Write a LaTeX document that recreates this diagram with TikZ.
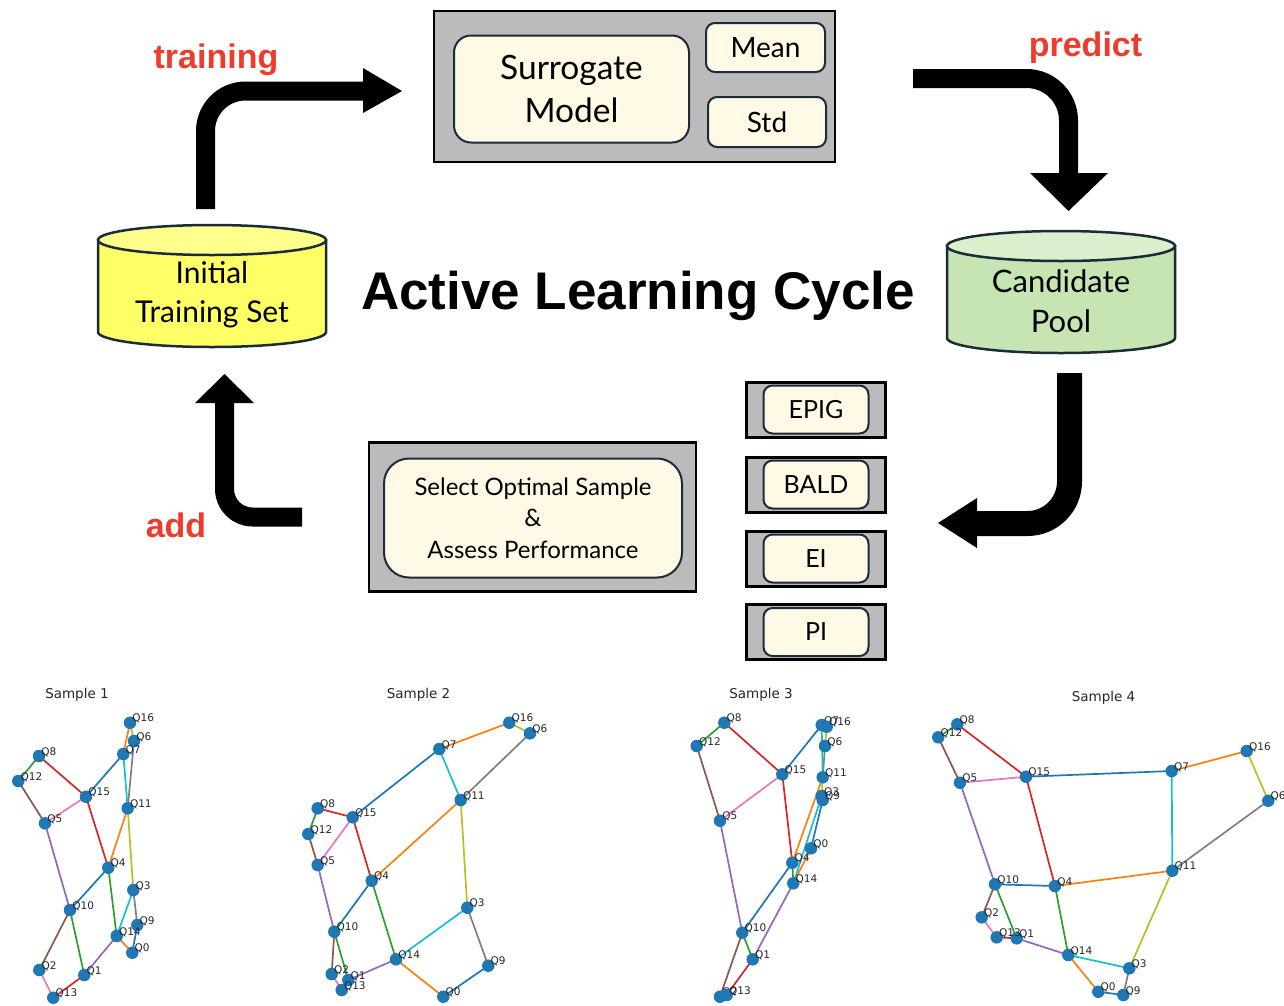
\documentclass[tikz,border=0pt]{standalone}
\usepackage{fontspec}
\setmainfont{Lato}
\newfontfamily\titlefont{Liberation Sans}
\newfontfamily\plotfont{DejaVu Sans}
\usetikzlibrary{backgrounds}
\definecolor{boxgray}{HTML}{BBBBBB}
\definecolor{cream}{HTML}{FFF9E5}
\definecolor{navy}{HTML}{1C2B3A}
\definecolor{ybody}{HTML}{FFFF66}
\definecolor{ytop}{HTML}{FFFF8C}
\definecolor{gbody}{HTML}{C6E5B3}
\definecolor{gtop}{HTML}{DAEFCC}
\definecolor{lblred}{HTML}{EE3B2B}
\definecolor{tabBlue}{HTML}{1F77B4}
\definecolor{tabOrange}{HTML}{FF7F0E}
\definecolor{tabGreen}{HTML}{2CA02C}
\definecolor{tabRed}{HTML}{D62728}
\definecolor{tabPurple}{HTML}{9467BD}
\definecolor{tabBrown}{HTML}{8C564B}
\definecolor{tabPink}{HTML}{E377C2}
\definecolor{tabGray}{HTML}{7F7F7F}
\definecolor{tabOlive}{HTML}{BCBD22}
\definecolor{tabCyan}{HTML}{17BECF}
\newcommand\edgelist{16/7/tabOrange, 16/6/tabOlive, 6/11/tabGray, 7/11/tabCyan, 7/15/tabBlue, 11/4/tabOrange, 11/3/tabOlive, 8/15/tabRed, 8/12/tabGreen, 12/5/tabBrown, 15/5/tabPink, 15/4/tabRed, 5/10/tabPurple, 4/10/tabBlue, 4/14/tabGreen, 3/14/tabCyan, 3/9/tabGray, 9/0/tabBlue, 14/0/tabOrange, 14/1/tabPurple, 10/2/tabBrown, 10/1/tabGreen, 2/13/tabPink, 13/1/tabRed}
\newcommand\drawsample[2]{%
  \foreach \n/\px/\py in {#2} {
    \node[gnode, label={[glab]0:Q\n}] (#1\n) at (\px,\py) {};
  }
  \begin{scope}[on background layer]
    \foreach \a/\b/\c in \edgelist {
      \draw[gedge, draw=\c] (#1\a.center) -- (#1\b.center);
    }
  \end{scope}
}
\begin{document}
\begin{tikzpicture}[x=1pt,y=-1pt,
  graybox/.style={draw=black, line width=2.5pt, fill=boxgray, inner sep=0pt},
  creambox/.style={draw=navy, line width=2pt, fill=cream, inner sep=0pt, align=center},
  cyl/.style={draw=navy, line width=2.5pt},
  cyltext/.style={inner sep=0pt, align=center},
  bigarrow/.style={draw=black, line cap=butt, line join=round},
  redlbl/.style={text=lblred, font=\titlefont\bfseries\fontsize{34}{40}\selectfont, anchor=base, inner sep=0pt},
  gnode/.style={circle, fill=tabBlue, inner sep=0pt, minimum size=12.5pt},
  glab/.style={font=\plotfont\fontsize{10.5}{11}\selectfont, inner sep=0pt, label distance=-4.3pt, yshift=4pt, text=black!85},
  gedge/.style={line width=1.7pt},
  stitle/.style={font=\plotfont\fontsize{13.5}{14}\selectfont, inner sep=0pt, text=black!85}
]
\useasboundingbox (0,0) rectangle (1284,1005);

% ---------- top surrogate box ----------
\node[graybox, minimum width=401pt, minimum height=151pt] (topbox) at (634.5,86.5) {};
\node[creambox, rounded corners=17pt, minimum width=235pt, minimum height=107pt, font=\fontsize{33.5}{43}\selectfont] (surr) at (571.5,89) {Surrogate\\Model};
\node[creambox, rounded corners=9pt, minimum width=119pt, minimum height=49pt, font=\fontsize{28}{30}\selectfont] (mean) at (765.5,47.5) {Mean};
\node[creambox, rounded corners=9pt, minimum width=118pt, minimum height=50pt, font=\fontsize{28}{30}\selectfont] (std) at (767,122) {Std};

% ---------- cylinders ----------
\path[cyl, fill=ybody] (98,240) -- (98,332) arc[start angle=180, end angle=360, x radius=114pt, y radius=15pt] -- (326,240) -- cycle;
\draw[cyl, fill=ytop] (212,240) ellipse[x radius=114pt, y radius=15pt];
\node[cyltext, font=\fontsize{30}{39}\selectfont] (init) at (212,295) {Initial\\Training Set};

\path[cyl, fill=gbody] (947,246) -- (947,338) arc[start angle=180, end angle=360, x radius=114pt, y radius=15pt] -- (1175,246) -- cycle;
\draw[cyl, fill=gtop] (1061,246) ellipse[x radius=114pt, y radius=15pt];
\node[cyltext, font=\fontsize{31}{40}\selectfont] (pool) at (1061,301) {Candidate\\Pool};

% ---------- title ----------
\node[anchor=base, inner sep=0pt, font=\titlefont\bfseries\fontsize{53}{60}\selectfont] (title) at (638,309) {Active Learning Cycle};

% ---------- select box ----------
\node[graybox, minimum width=327pt, minimum height=149pt] (selbox) at (532.5,517) {};
\node[creambox, rounded corners=25pt, minimum width=298pt, minimum height=119pt, font=\fontsize{24}{31.5}\selectfont] (sel) at (533,518) {Select Optimal Sample\\\&\\Assess Performance};

% ---------- acquisition functions ----------
\foreach \nm/\yy/\txt in {epig/409.5/EPIG, bald/484.5/BALD, ei/558.5/EI, pi/632/PI} {
  \node[graybox, line width=3pt, minimum width=139pt, minimum height=55pt] (\nm box) at (816,\yy) {};
  \node[creambox, rounded corners=9pt, minimum width=105pt, minimum height=48pt, font=\fontsize{25}{28}\selectfont] (\nm) at (816,\yy) {\txt};
}

% ---------- big arrows ----------
\coordinate (trS) at (205.5,209);
\coordinate (trC) at (205.5,91);
\coordinate (trE) at (363,91);
\draw[bigarrow, line width=19pt, rounded corners=40pt] (trS) -- (trC) -- (trE);
\fill (363,68) -- (402,91) -- (363,113) -- cycle;
\node[redlbl] (lbltrain) at (216,68) {training};

\coordinate (prS) at (913,78.5);
\coordinate (prC) at (1068.5,78.5);
\coordinate (prE) at (1068.5,173);
\draw[bigarrow, line width=19pt, rounded corners=42pt] (prS) -- (prC) -- (prE);
\fill (1030,173) -- (1068.5,211) -- (1108,173) -- cycle;
\node[redlbl] (lblpred) at (1085.5,56) {predict};

\coordinate (slS) at (1069.5,373);
\coordinate (slC) at (1069.5,523.5);
\coordinate (slE) at (977,523.5);
\draw[bigarrow, line width=25pt, rounded corners=42pt] (slS) -- (slC) -- (slE);
\fill (977,498) -- (938,523) -- (977,548) -- cycle;

\coordinate (adS) at (302,517);
\coordinate (adC) at (224.5,517);
\coordinate (adE) at (224.5,403);
\draw[bigarrow, line width=19pt, rounded corners=28pt] (adS) -- (adC) -- (adE);
\fill (195,403) -- (224.5,374) -- (254,403) -- cycle;
\node[redlbl] (lbladd) at (176,537) {add};

% ---------- sample graphs ----------
\node[stitle] (t1) at (77,694.5) {Sample 1};
\node[stitle] (t2) at (418.5,694.5) {Sample 2};
\node[stitle] (t3) at (761,694.5) {Sample 3};
\node[stitle] (t4) at (1103.5,698) {Sample 4};

\drawsample{sa}{0/132.3/952.7, 1/84.3/975, 2/39.3/970, 3/133.3/890, 4/108.3/867.7, 5/45/823.3, 6/134/741, 7/123.3/754, 8/39/756, 9/137.3/925, 10/70/910, 11/127.7/808.3, 12/18.3/781, 13/53.3/997.7, 14/116.7/936, 15/86/796.7, 16/130/722.7}
\drawsample{sb}{0/443.3/996.7, 1/348.3/980, 2/331.7/974, 3/467.3/907.7, 4/371.7/880.7, 5/317.7/865, 6/530/733.3, 7/439.3/749, 8/317.7/808.3, 9/488.3/965.7, 10/334.3/931.7, 11/460.7/800, 12/308.3/834, 13/341.7/990, 14/396/959.3, 15/352.7/817.3, 16/509.3/722.7}
\drawsample{sc}{0/811/848.3, 1/752.7/959.3, 2/720/996.7, 3/821.7/796, 4/792.3/862.7, 5/720/820.7, 6/825/746, 7/821.7/725, 8/724.3/722.7, 9/822.7/800, 10/742.3/932.7, 11/822.7/777.3, 12/696.7/746, 13/726.7/995, 14/793.3/883.3, 15/782.3/774.3, 16/826.7/726.7}
\drawsample{sd}{0/1098.3/991.7, 1/1016.7/938.3, 2/981.7/917.3, 3/1129.3/968.3, 4/1055/886, 5/960/782.7, 6/1268.3/800.7, 7/1171.7/771, 8/957.3/724.3, 9/1123.3/995, 10/995/884.3, 11/1172.3/870.7, 12/938.3/737.3, 13/996.7/937.3, 14/1068.3/955, 15/1026/776.7, 16/1246.7/751}
\end{tikzpicture}
\end{document}
